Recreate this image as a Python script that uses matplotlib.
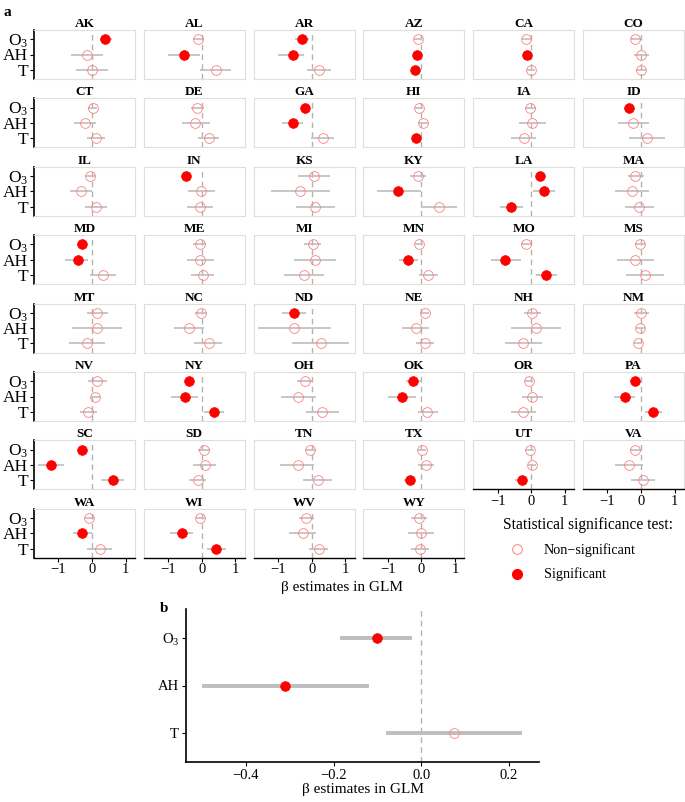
import matplotlib.pyplot as plt
from matplotlib.lines import Line2D

plt.rcParams['font.family'] = ['Liberation Serif', 'DejaVu Serif']
plt.rcParams['mathtext.fontset'] = 'custom'
plt.rcParams['mathtext.rm'] = 'Liberation Serif'
plt.rcParams['mathtext.it'] = 'Liberation Serif:italic'
plt.rcParams['mathtext.bf'] = 'Liberation Serif:bold'

# ---- panel a data (per state GLM estimates) ----
states = ['AK', 'AL', 'AR', 'AZ', 'CA', 'CO',
          'CT', 'DE', 'GA', 'HI', 'IA', 'ID',
          'IL', 'IN', 'KS', 'KY', 'LA', 'MA',
          'MD', 'ME', 'MI', 'MN', 'MO', 'MS',
          'MT', 'NC', 'ND', 'NE', 'NH', 'NM',
          'NV', 'NY', 'OH', 'OK', 'OR', 'PA',
          'SC', 'SD', 'TN', 'TX', 'UT', 'VA',
          'WA', 'WI', 'WV', 'WY']

o3_est = [0.38, -0.10, -0.30, -0.10, -0.15, -0.17,
          0.02, -0.15, -0.19, -0.07, -0.04, -0.35,
          -0.05, -0.47, 0.06, -0.10, 0.25, -0.17,
          -0.30, -0.07, 0.03, -0.07, -0.17, -0.04,
          0.15, -0.02, -0.52, 0.11, 0.03, 0.00,
          0.16, -0.38, -0.20, -0.25, -0.07, -0.19,
          -0.30, 0.05, -0.04, 0.03, -0.05, -0.17,
          -0.09, -0.05, -0.17, -0.07]
o3_lo = [0.23, -0.27, -0.49, -0.22, -0.27, -0.30,
         -0.12, -0.33, -0.32, -0.19, -0.20, -0.52,
         -0.22, -0.57, -0.42, -0.34, 0.13, -0.39,
         -0.45, -0.25, -0.22, -0.19, -0.32, -0.17,
         -0.15, -0.20, -0.87, -0.02, -0.22, -0.22,
         -0.12, -0.50, -0.44, -0.47, -0.20, -0.32,
         -0.44, -0.12, -0.19, -0.09, -0.20, -0.32,
         -0.22, -0.18, -0.39, -0.32]
o3_hi = [0.58, 0.07, -0.09, 0.03, 0.00, 0.00,
         0.15, 0.05, -0.07, 0.05, 0.13, -0.22,
         0.11, -0.35, 0.56, 0.15, 0.38, 0.08,
         -0.15, 0.13, 0.28, 0.06, 0.00, 0.11,
         0.48, 0.15, -0.17, 0.23, 0.30, 0.25,
         0.45, -0.25, 0.05, -0.02, 0.06, -0.07,
         -0.15, 0.23, 0.13, 0.15, 0.08, 0.03,
         0.05, 0.08, 0.06, 0.18]
o3_sig = [1, 0, 1, 0, 0, 0,
          0, 0, 1, 0, 0, 1,
          0, 1, 0, 0, 1, 0,
          1, 0, 0, 0, 0, 0,
          0, 0, 1, 0, 0, 0,
          0, 1, 0, 1, 0, 1,
          1, 0, 0, 0, 0, 0,
          0, 0, 0, 0]

ah_est = [-0.15, -0.52, -0.57, -0.14, -0.14, 0.00,
          -0.22, -0.20, -0.57, 0.05, 0.03, -0.25,
          -0.32, -0.02, -0.34, -0.69, 0.38, -0.27,
          -0.42, -0.05, 0.10, -0.39, -0.77, -0.17,
          0.15, -0.38, -0.52, -0.17, 0.15, -0.04,
          0.10, -0.50, -0.40, -0.59, 0.03, -0.49,
          -1.23, 0.08, -0.42, 0.13, 0.03, -0.37,
          -0.29, -0.60, -0.27, -0.02]
ah_lo = [-0.62, -1.00, -1.01, -0.25, -0.25, -0.22,
         -0.55, -0.60, -0.87, -0.09, -0.37, -0.69,
         -0.67, -0.40, -1.21, -1.31, 0.06, -0.77,
         -0.80, -0.45, -0.52, -0.67, -1.21, -0.72,
         -0.60, -0.83, -1.61, -0.57, -0.60, -0.15,
         -0.02, -0.92, -0.92, -0.99, -0.29, -0.80,
         -1.61, -0.27, -0.94, -0.10, -0.09, -0.79,
         -0.57, -0.95, -0.67, -0.40]
ah_hi = [0.33, -0.07, -0.22, -0.02, -0.03, 0.23,
         0.13, 0.23, -0.25, 0.19, 0.43, 0.23,
         0.01, 0.40, 0.56, -0.02, 0.71, 0.25,
         -0.12, 0.37, 0.73, -0.09, -0.32, 0.38,
         0.90, 0.07, 0.58, 0.23, 0.88, 0.11,
         0.23, -0.10, 0.13, -0.17, 0.36, -0.17,
         -0.85, 0.43, 0.08, 0.38, 0.15, 0.05,
         0.01, -0.25, 0.13, 0.36]
ah_sig = [0, 1, 1, 1, 1, 0,
          0, 0, 1, 0, 0, 0,
          0, 0, 0, 1, 1, 0,
          1, 0, 0, 1, 1, 0,
          0, 0, 0, 0, 0, 0,
          0, 1, 0, 1, 0, 1,
          1, 0, 0, 0, 0, 0,
          1, 1, 0, 0]

t_est = [0.00, 0.43, 0.23, -0.19, 0.00, 0.01,
         0.13, 0.20, 0.33, -0.17, -0.22, 0.18,
         0.13, -0.05, 0.11, 0.51, -0.60, -0.05,
         0.33, 0.02, -0.24, 0.21, 0.45, 0.11,
         -0.15, 0.20, 0.28, 0.11, -0.25, -0.10,
         -0.12, 0.35, 0.31, 0.18, -0.24, 0.35,
         0.61, -0.12, 0.18, -0.34, -0.29, 0.05,
         0.23, 0.43, 0.21, -0.05]
t_lo = [-0.47, -0.05, -0.15, -0.32, -0.12, -0.14,
        -0.14, -0.12, -0.02, -0.29, -0.59, -0.37,
        -0.22, -0.43, -0.47, -0.02, -0.94, -0.49,
        -0.07, -0.33, -0.82, -0.07, 0.13, -0.45,
        -0.70, -0.23, -0.59, -0.17, -0.77, -0.22,
        -0.37, 0.07, -0.17, -0.09, -0.59, 0.11,
        0.26, -0.37, -0.25, -0.52, -0.47, -0.29,
        -0.15, 0.15, -0.07, -0.32]
t_hi = [0.48, 0.88, 0.58, -0.07, 0.12, 0.15,
        0.38, 0.52, 0.68, -0.05, 0.15, 0.71,
        0.45, 0.32, 0.71, 1.07, -0.25, 0.38,
        0.70, 0.35, 0.36, 0.48, 0.78, 0.68,
        0.38, 0.60, 1.12, 0.38, 0.31, 0.01,
        0.15, 0.65, 0.81, 0.50, 0.13, 0.61,
        0.95, 0.12, 0.62, -0.19, -0.12, 0.41,
        0.58, 0.73, 0.50, 0.23]
t_sig = [0, 0, 0, 1, 0, 0,
         0, 0, 0, 1, 0, 0,
         0, 0, 0, 0, 1, 0,
         0, 0, 0, 0, 1, 0,
         0, 0, 0, 0, 0, 0,
         0, 1, 0, 0, 0, 1,
         1, 0, 0, 1, 1, 0,
         0, 1, 0, 0]

# ---- panel b data (pooled estimates) ----
pooled_est = [-0.10, -0.31, 0.075]
pooled_lo = [-0.185, -0.50, -0.08]
pooled_hi = [-0.02, -0.12, 0.23]
pooled_sig = [1, 1, 0]

var_labels = ['O$_3$', 'AH', 'T']
var_y = [3, 2, 1]

RED = '#ff0000'
OPEN_EDGE = '#ff7f7f'
CI_GRAY = '#bebebe'
ZERO_GRAY = '#b3b3b3'
BORDER = '#dedede'

W, H = 685, 802
fig = plt.figure(figsize=(W / 100, H / 100), dpi=100)


def rect(x0, y0, x1, y1):
    # pixel box (top-left origin) -> figure fraction
    return [x0 / W, 1 - y1 / H, (x1 - x0) / W, (y1 - y0) / H]


def draw_points(ax, est, lo, hi, sig, ms, lw):
    ax.axvline(0, color=ZERO_GRAY, ls=(0, (4, 3)), lw=1.0, zorder=1)
    ax.hlines(var_y, lo, hi, color=CI_GRAY, lw=lw, zorder=2)
    for y, e, s in zip(var_y, est, sig):
        if s:
            ax.plot(e, y, 'o', ms=ms, mfc=RED, mec=RED, mew=0.5, zorder=3)
        else:
            ax.plot(e, y, 'o', ms=ms, mfc='none', mec=OPEN_EDGE, mew=0.6, zorder=3)


n = len(states)
for i, st in enumerate(states):
    row, col = divmod(i, 6)
    x0 = 34 + col * 109.8
    y0 = 30 + row * 68.4
    ax = fig.add_axes(rect(x0, y0, x0 + 101, y0 + 49))
    est = [o3_est[i], ah_est[i], t_est[i]]
    lo = [o3_lo[i], ah_lo[i], t_lo[i]]
    hi = [o3_hi[i], ah_hi[i], t_hi[i]]
    sig = [o3_sig[i], ah_sig[i], t_sig[i]]
    draw_points(ax, est, lo, hi, sig, ms=7, lw=1.2)
    ax.set_xlim(-1.73, 1.28)
    ax.set_ylim(0.4, 3.6)
    for sp in ax.spines.values():
        sp.set_color(BORDER)
        sp.set_linewidth(0.8)
    ax.set_title(st, fontsize=9.5, fontweight='bold', pad=2)
    bottom = i + 6 >= n
    ax.set_xticks([-1, 0, 1])
    if bottom:
        ax.spines['bottom'].set_color('black')
        ax.spines['bottom'].set_linewidth(1.0)
        ax.tick_params(axis='x', length=3, width=0.8, labelsize=10.5, pad=1)
    else:
        ax.tick_params(axis='x', length=0, labelbottom=False)
    ax.set_yticks(var_y)
    if col == 0:
        ax.spines['left'].set_color('black')
        ax.spines['left'].set_linewidth(1.2)
        ax.set_yticklabels(var_labels)
        ax.tick_params(axis='y', length=3, width=0.8, labelsize=12.5, pad=1)
    else:
        ax.tick_params(axis='y', length=0, labelleft=False)

fig.text(4 / W, 1 - 12 / H, 'a', fontsize=11, fontweight='bold', va='center')
fig.text(342 / W, 1 - 588 / H, 'β estimates in GLM', fontsize=11,
         ha='center', va='center')

# legend in the empty bottom-right slots
handles = [Line2D([], [], ls='none', marker='o', ms=7, mfc='none', mec=OPEN_EDGE, mew=0.7),
           Line2D([], [], ls='none', marker='o', ms=7, mfc=RED, mec=RED)]
leg = fig.legend(handles, ['Non\u2212significant', 'Significant'],
                 title='Statistical significance test:', loc='upper left',
                 bbox_to_anchor=(497 / W, 1 - 511 / H), frameon=False,
                 fontsize=10.2, title_fontsize=11.2, alignment='left',
                 handletextpad=0.9, labelspacing=0.75, borderaxespad=0)

# ---- panel b ----
axb = fig.add_axes(rect(186, 609, 539, 762))
draw_points(axb, pooled_est, pooled_lo, pooled_hi, pooled_sig, ms=7, lw=2.8)
axb.set_xlim(-0.537, 0.269)
axb.set_ylim(0.4, 3.6)
axb.spines['top'].set_visible(False)
axb.spines['right'].set_visible(False)
axb.spines['left'].set_linewidth(1.2)
axb.spines['bottom'].set_linewidth(1.2)
axb.set_xticks([-0.4, -0.2, 0.0, 0.2])
axb.set_xticklabels(['\u22120.4', '\u22120.2', '0.0', '0.2'])
axb.set_yticks(var_y)
axb.set_yticklabels(var_labels)
axb.tick_params(axis='both', length=3, width=0.8, labelsize=10.5, pad=2)
axb.set_xlabel('β estimates in GLM', fontsize=11, labelpad=1)
fig.text(160 / W, 1 - 608 / H, 'b', fontsize=11, fontweight='bold', va='center')

fig.savefig('out.png', dpi=100)
